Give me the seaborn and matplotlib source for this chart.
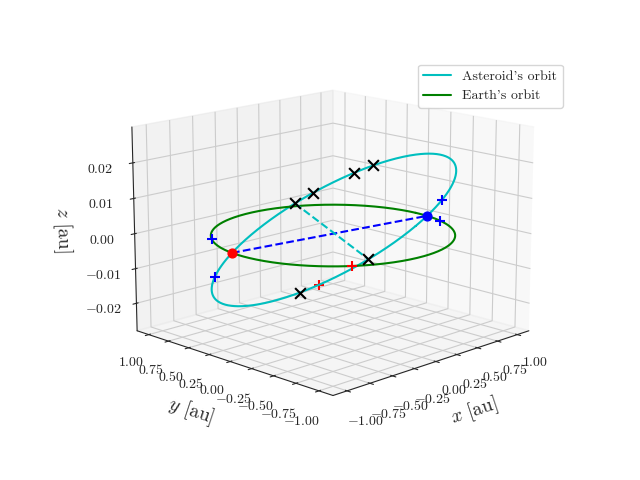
import numpy as np
import matplotlib
matplotlib.use("Agg")
import matplotlib.pyplot as plt
import seaborn as sns

sns.set_style("white")
plt.rcParams.update({"font.family": "cmr10", "mathtext.fontset": "cm",
                     "axes.formatter.use_mathtext": True, "axes.unicode_minus": True})

# asteroid orbit (near-circular, inclined; z amplitude in au)
ast_radius = 1.0
z_amp = 0.028
node_deg = -8.0           # longitude of node where z crosses zero
apsis_line_deg = [208.0, 27.0]
# markers (longitudes in degrees)
black_x_lon = [208, 216, 234, 243, 27, 62]
blue_plus_earth_lon = [145.6, -19.0]
blue_plus_ast_lon = [152.0, -21.0]
red_plus_earth_lon = [233.5]
red_plus_ast_lon = [52.0]
z_ticks = [-0.02, -0.01, 0.0, 0.01, 0.02]
xy_ticks = [-1.0, -0.75, -0.5, -0.25, 0.0, 0.25, 0.5, 0.75, 1.0]

def ast(lon):
    th = np.radians(np.atleast_1d(np.asarray(lon, dtype=float)))
    return (ast_radius * np.cos(th), ast_radius * np.sin(th),
            -z_amp * np.sin(th - np.radians(node_deg)))

def earth(lon):
    th = np.radians(np.atleast_1d(np.asarray(lon, dtype=float)))
    return np.cos(th), np.sin(th), np.zeros_like(th)

t = np.linspace(0, 360, 500)

fig = plt.figure(figsize=(6.4, 4.8), dpi=100)
fig.subplots_adjust(bottom=0.125, top=0.895)
ax = fig.add_subplot(projection="3d")
ax.view_init(elev=14.5, azim=-135)
ax.set_box_aspect(None, zoom=1.18)
ax.plot(*ast(t), color="c", label="Asteroid's orbit")
ax.plot(*earth(t), color="g", label="Earth's orbit")

ax.plot(*ast([node_deg + 180, node_deg]), "b--")
ax.plot(*ast(apsis_line_deg), "c--")
ax.scatter(*ast([node_deg]), color="b", s=40, depthshade=False)
ax.scatter(*ast([node_deg + 180]), color="r", s=40, depthshade=False)

ax.scatter(*ast(black_x_lon), marker="x", color="k", s=60, depthshade=False)
ax.scatter(*earth(blue_plus_earth_lon), marker="+", color="b", s=60, depthshade=False)
ax.scatter(*ast(blue_plus_ast_lon), marker="+", color="b", s=60, depthshade=False)
ax.scatter(*earth(red_plus_earth_lon), marker="+", color="r", s=60, depthshade=False)
ax.scatter(*ast(red_plus_ast_lon), marker="+", color="r", s=60, depthshade=False)

ax.set_xlim(-1.15, 1.15); ax.set_ylim(-1.15, 1.15); ax.set_zlim(-0.028, 0.03)
ax.set_xticks(xy_ticks); ax.set_yticks(xy_ticks); ax.set_zticks(z_ticks)
ax.set_xlabel("$x$ [au]", fontsize=14)
ax.set_ylabel("$y$ [au]", fontsize=14)
ax.set_zlabel("$z$ [au]", fontsize=14)
ax.legend(loc="upper right", bbox_to_anchor=(0.89, 0.88), bbox_transform=fig.transFigure)
fig.savefig("out.png", dpi=100)
